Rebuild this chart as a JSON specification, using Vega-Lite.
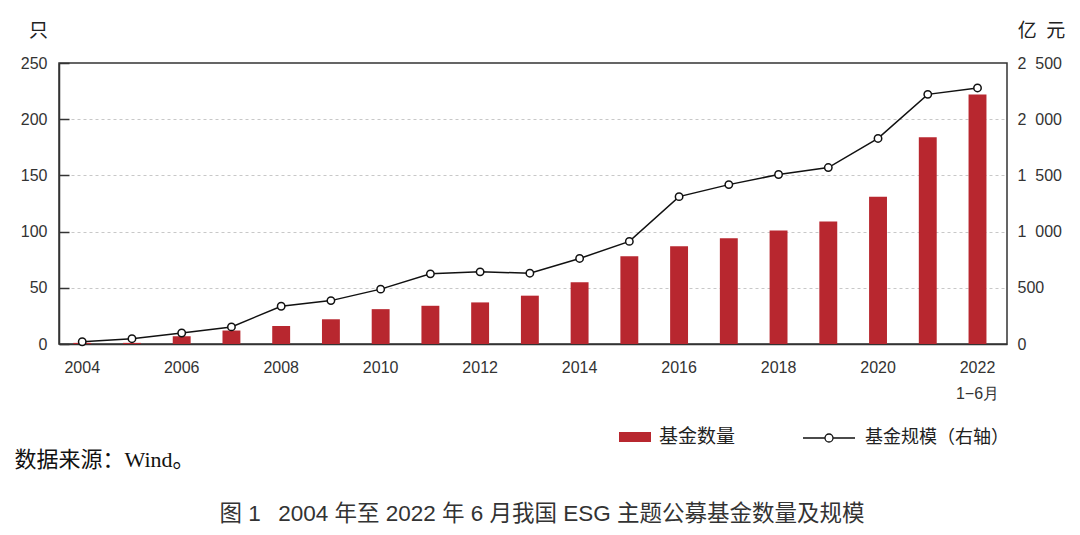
{
  "$schema": "https://vega.github.io/schema/vega-lite/v6.json",
  "width": 948,
  "height": 281,
  "autosize": {"type": "none"},
  "padding": {"left": 59, "top": 63, "right": 73, "bottom": 191},
  "background": "white",
  "config": {
    "view": {"stroke": "#333", "strokeWidth": 1.5},
    "font": "Liberation Sans",
    "axis": {"labelFont": "Liberation Sans", "labelFontSize": 16, "labelColor": "#333", "titleFont": "Noto Sans CJK SC", "titleFontWeight": "normal", "titleColor": "#222"}
  },
  "title": {
    "text": "图 1\u2002 2004 年至 2022 年 6 月我国 ESG 主题公募基金数量及规模",
    "orient": "bottom",
    "anchor": "middle",
    "frame": "group",
    "offset": 33,
    "dx": 9,
    "fontSize": 22.5,
    "fontWeight": "normal",
    "color": "#333",
    "font": "Liberation Sans, Noto Sans CJK SC"
  },
  "data": {
    "values": [
      {"year": 2004, "count": 1, "scale": 20},
      {"year": 2005, "count": 1, "scale": 47},
      {"year": 2006, "count": 7, "scale": 98},
      {"year": 2007, "count": 12, "scale": 152},
      {"year": 2008, "count": 16, "scale": 336},
      {"year": 2009, "count": 22, "scale": 386},
      {"year": 2010, "count": 31, "scale": 488},
      {"year": 2011, "count": 34, "scale": 624},
      {"year": 2012, "count": 37, "scale": 642},
      {"year": 2013, "count": 43, "scale": 630},
      {"year": 2014, "count": 55, "scale": 761},
      {"year": 2015, "count": 78, "scale": 913},
      {"year": 2016, "count": 87, "scale": 1311},
      {"year": 2017, "count": 94, "scale": 1418},
      {"year": 2018, "count": 101, "scale": 1508},
      {"year": 2019, "count": 109, "scale": 1570},
      {"year": 2020, "count": 131, "scale": 1829},
      {"year": 2021, "count": 184, "scale": 2221},
      {"year": 2022, "count": 222, "scale": 2278}
    ]
  },
  "encoding": {
    "x": {
      "field": "year",
      "type": "ordinal",
      "scale": {"paddingInner": 0.64, "paddingOuter": 0.35, "align": 0.41},
      "axis": {
        "title": "数据来源：Wind。",
        "titleX": -45,
        "titleY": 115,
        "titleAlign": "left",
        "titleBaseline": "middle",
        "titleFontSize": 22,
        "titleColor": "#111",
        "titleFont": "Liberation Serif, Noto Sans CJK SC",
        "labelAngle": 0,
        "labelOverlap": false,
        "labelPadding": 15,
        "labelDx": -3,
        "labelLineHeight": 26,
        "labelExpr": "datum.value % 2 == 0 ? (datum.value == 2022 ? ['2022', '1−6月'] : datum.label) : ''",
        "ticks": false,
        "domainColor": "#333",
        "domainWidth": 1.5
      }
    }
  },
  "layer": [
    {
      "mark": {"type": "bar"},
      "encoding": {
        "y": {
          "field": "count",
          "type": "quantitative",
          "scale": {"domain": [0, 250], "nice": false},
          "axis": {
            "title": "只",
            "titleAngle": 0,
            "titleX": -21,
            "titleY": -33,
            "titleAlign": "center",
            "titleBaseline": "middle",
            "titleFontSize": 19,
            "values": [0, 50, 100, 150, 200, 250],
            "grid": true,
            "gridDash": [3, 3],
            "gridColor": "#c8c8c8",
            "gridOpacity": {"condition": {"test": "datum.value == 0 || datum.value == 250", "value": 0}, "value": 1},
            "tickSize": -10,
            "tickColor": "#333",
            "tickWidth": 1.5,
            "labelPadding": 22,
            "domainColor": "#333",
            "domainWidth": 1.5
          }
        },
        "color": {
          "datum": "基金数量",
          "scale": {"range": ["#B8272F"]},
          "legend": {
            "title": null,
            "orient": "none",
            "legendX": 566,
            "legendY": 364,
            "padding": 0,
            "symbolType": "M-1.6,-0.5H1.6V0.5H-1.6Z",
            "symbolSize": 400,
            "symbolStrokeWidth": 0,
            "labelOffset": 14,
            "labelFont": "Noto Sans CJK SC",
            "labelFontSize": 19,
            "labelColor": "#222"
          }
        }
      }
    },
    {
      "mark": {"type": "line", "strokeWidth": 1.5, "point": {"filled": false, "fill": "white", "size": 55, "strokeWidth": 1.5}},
      "encoding": {
        "y": {
          "field": "scale",
          "type": "quantitative",
          "scale": {"domain": [0, 2500], "nice": false},
          "axis": {
            "orient": "right",
            "title": "亿\u2002元",
            "titleAngle": 0,
            "titleX": 34,
            "titleY": -33,
            "titleAlign": "center",
            "titleBaseline": "middle",
            "titleFontSize": 19,
            "values": [0, 500, 1000, 1500, 2000, 2500],
            "grid": false,
            "ticks": false,
            "domain": false,
            "labelAlign": "left",
            "labelPadding": 10,
            "labelExpr": "datum.value >= 1000 ? floor(datum.value / 1000) + '\u2007' + format(datum.value % 1000, '03d') : datum.label"
          }
        },
        "color": {
          "datum": "基金规模（右轴）",
          "scale": {"range": ["#111111"]},
          "legend": {
            "title": null,
            "orient": "none",
            "legendX": 759,
            "legendY": 364,
            "padding": 0,
            "symbolType": "M-2.6,0H-0.4M0.4,0H2.6M-0.4,0A0.4,0.4 0 1,1 0.4,0A0.4,0.4 0 1,1 -0.4,0Z",
            "symbolSize": 400,
            "symbolStrokeColor": "#111111",
            "symbolFillColor": "white",
            "symbolStrokeWidth": 1.3,
            "labelOffset": 25,
            "labelFont": "Noto Sans CJK SC",
            "labelFontSize": 18,
            "labelColor": "#222"
          }
        }
      }
    }
  ],
  "resolve": {"scale": {"y": "independent", "color": "independent"}}
}
